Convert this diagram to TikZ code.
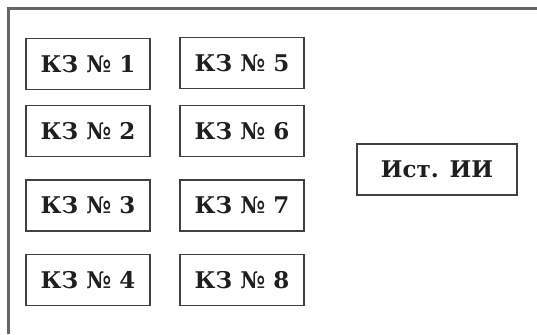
\documentclass[tikz,border=0pt]{standalone}
\usepackage{fontspec}
\setmainfont{DejaVu Serif}
\begin{document}
\begin{tikzpicture}[x=1pt,y=-1pt,
  frameline/.style={draw=black!60,line width=3pt},
  unit/.style={draw=black!75,line width=1.2pt,fill=white,
    minimum width=124pt,minimum height=51pt,inner sep=0pt,
    font=\fontsize{23}{27}\selectfont\bfseries,text=black!88},
  source/.style={unit,minimum width=160pt}]
\useasboundingbox (0,0) rectangle (537,334);
\fill[white] (0,0) rectangle (537,334);
% open frame: top and left edges
\coordinate (fl) at (8,334);
\coordinate (fc) at (8,9);
\coordinate (fr) at (537,9);
\draw[frameline] (fl) -- (fc) -- (fr);
% left column
\node[unit] (k1) at (88,64) {КЗ № 1};
\node[unit] (k2) at (88,131) {КЗ № 2};
\node[unit] (k3) at (88,205.5) {КЗ № 3};
\node[unit] (k4) at (88,280) {КЗ № 4};
% right column
\node[unit] (k5) at (242,63) {КЗ № 5};
\node[unit] (k6) at (242,131) {КЗ № 6};
\node[unit] (k7) at (242,205.5) {КЗ № 7};
\node[unit] (k8) at (242,280) {КЗ № 8};
% source
\node[source] (src) at (437,169.5) {Ист. ИИ};
\end{tikzpicture}
\end{document}
